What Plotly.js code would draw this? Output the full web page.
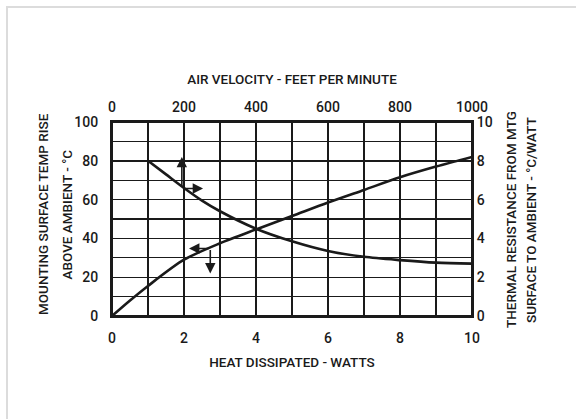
<!DOCTYPE html>
<html>
<head>
<meta charset="utf-8">
<script src="https://cdn.plot.ly/plotly-3.0.1.min.js"></script>
<style>
  html, body { margin: 0; padding: 0; background: #fff; }
  #wrap { position: relative; width: 576px; height: 419px; overflow: hidden; }
  #frame { position: absolute; left: 6px; top: 6px; width: 600px; height: 600px;
           border-top: 2px solid #dcdcdc; border-left: 2px solid #dcdcdc; pointer-events: none; }
  #chart { position: absolute; left: 0; top: 0; width: 576px; height: 419px; }
</style>
</head>
<body>
<div id="wrap">
  <div id="chart"></div>
  <div id="frame"></div>
</div>
<script>
// Heat dissipated (W) vs mounting surface temperature rise (°C)
var watts = [0, 0.5, 1, 2, 3, 4, 5, 6, 7, 8, 9, 10];
var tempRise = [0, 8, 15.5, 29, 37.5, 44.6, 51.5, 58.5, 65, 71.5, 77, 82];

// Air velocity (ft/min) vs thermal resistance (°C/W)
var velocity = [100, 150, 200, 250, 300, 400, 500, 600, 700, 800, 900, 1000];
var resistance = [8.0, 7.3, 6.6, 5.95, 5.4, 4.5, 3.85, 3.35, 3.05, 2.88, 2.75, 2.7];

// Tick labels
var wattTicks = [0, 2, 4, 6, 8, 10];
var velTicks = [0, 200, 400, 600, 800, 1000];
var tempTicks = [0, 20, 40, 60, 80, 100];
var resTicks = [0, 2, 4, 6, 8, 10];

// Axis title texts
var leftTitle = ['MOUNTING SURFACE TEMP RISE', 'ABOVE AMBIENT - °C'];
var rightTitle = ['THERMAL RESISTANCE FROM MTG', 'SURFACE TO AMBIENT - °C/WATT'];

// Indicator arrows (which curve reads on which axes): [headX, headY, tailX, tailY] in W / °C
var arrowUp = [1.94, 82, 1.94, 65.7];
var arrowRight = [2.53, 65.7, 1.94, 65.7];
var arrowLeft = [2.14, 34.8, 2.73, 34.8];
var arrowDown = [2.73, 21.9, 2.73, 34.8];

var FONT = 'Roboto, "Liberation Sans", sans-serif';
var INK = '#1a1a1a';

var traces = [
  { x: watts, y: tempRise, xaxis: 'x', yaxis: 'y', mode: 'lines',
    line: { color: INK, width: 2.6, shape: 'spline', smoothing: 0.8 }, hoverinfo: 'skip', showlegend: false },
  { x: velocity, y: resistance, xaxis: 'x2', yaxis: 'y2', mode: 'lines',
    line: { color: INK, width: 2.6, shape: 'spline', smoothing: 0.8 }, hoverinfo: 'skip', showlegend: false }
];

function arrow(a) {
  return { x: a[0], y: a[1], ax: a[2], ay: a[3], xref: 'x', yref: 'y', axref: 'x', ayref: 'y',
           text: '', showarrow: true, arrowhead: 2, arrowsize: 1.3, arrowwidth: 1.6,
           arrowcolor: INK, standoff: 0, startstandoff: 0 };
}

var tickFont = { family: FONT, size: 14, color: INK, weight: 500 };
var titleFont = { family: FONT, size: 13.5, color: INK, weight: 500 };

function sideTitle(text, xPaper, xshift, yshift) {
  return { text: text, xref: 'paper', yref: 'paper', x: xPaper, y: 0.5, xanchor: 'center', yanchor: 'middle',
           xshift: xshift, yshift: yshift, textangle: -90, showarrow: false, font: titleFont };
}

var gridCommon = { showgrid: true, gridcolor: INK, gridwidth: 1.4, showline: true, linecolor: INK,
                   linewidth: 2, mirror: false, zeroline: false, ticks: '', fixedrange: true };

var layout = {
  width: 576, height: 419,
  margin: { l: 112, r: 104, t: 122, b: 103, pad: 0 },
  paper_bgcolor: '#fff', plot_bgcolor: '#fff',
  showlegend: false,
  xaxis: Object.assign({}, gridCommon, {
    range: [0, 10], tickvals: wattTicks, ticktext: wattTicks.map(String),
    minor: { dtick: 1, showgrid: true, gridcolor: INK, gridwidth: 1.4 },
    tickfont: tickFont, ticklabelstandoff: 8,
    title: { text: 'HEAT DISSIPATED - WATTS', font: titleFont, standoff: 13 }
  }),
  xaxis2: Object.assign({}, gridCommon, {
    overlaying: 'x', side: 'top', range: [0, 1000], showgrid: false,
    tickvals: velTicks, ticktext: velTicks.map(String), tickfont: tickFont, ticklabelstandoff: 2,
    title: { text: 'AIR VELOCITY - FEET PER MINUTE', font: titleFont, standoff: 12 }
  }),
  yaxis: Object.assign({}, gridCommon, {
    range: [0, 100], tickvals: tempTicks, ticktext: tempTicks.map(String),
    minor: { dtick: 10, showgrid: true, gridcolor: INK, gridwidth: 1.4 },
    tickfont: tickFont, ticklabelstandoff: 9
  }),
  yaxis2: Object.assign({}, gridCommon, {
    overlaying: 'y', side: 'right', range: [0, 10], showgrid: false,
    tickvals: resTicks, ticktext: resTicks.map(String), tickfont: tickFont, ticklabelstandoff: 0
  }),
  annotations: [
    arrow(arrowUp), arrow(arrowRight), arrow(arrowLeft), arrow(arrowDown),
    sideTitle(leftTitle[0], 0, -69.5, 4.5),
    sideTitle(leftTitle[1], 0, -45.5, 4),
    sideTitle(rightTitle[0], 1, 39, -1),
    sideTitle(rightTitle[1], 1, 59, -1)
  ],
  shapes: [
    { type: 'rect', xref: 'paper', yref: 'paper', x0: 0, x1: 1, y0: 0, y1: 1,
      line: { color: INK, width: 2 }, layer: 'above' }
  ]
};

Plotly.newPlot('chart', traces, layout, { displayModeBar: false, staticPlot: true });
</script>
</body>
</html>
